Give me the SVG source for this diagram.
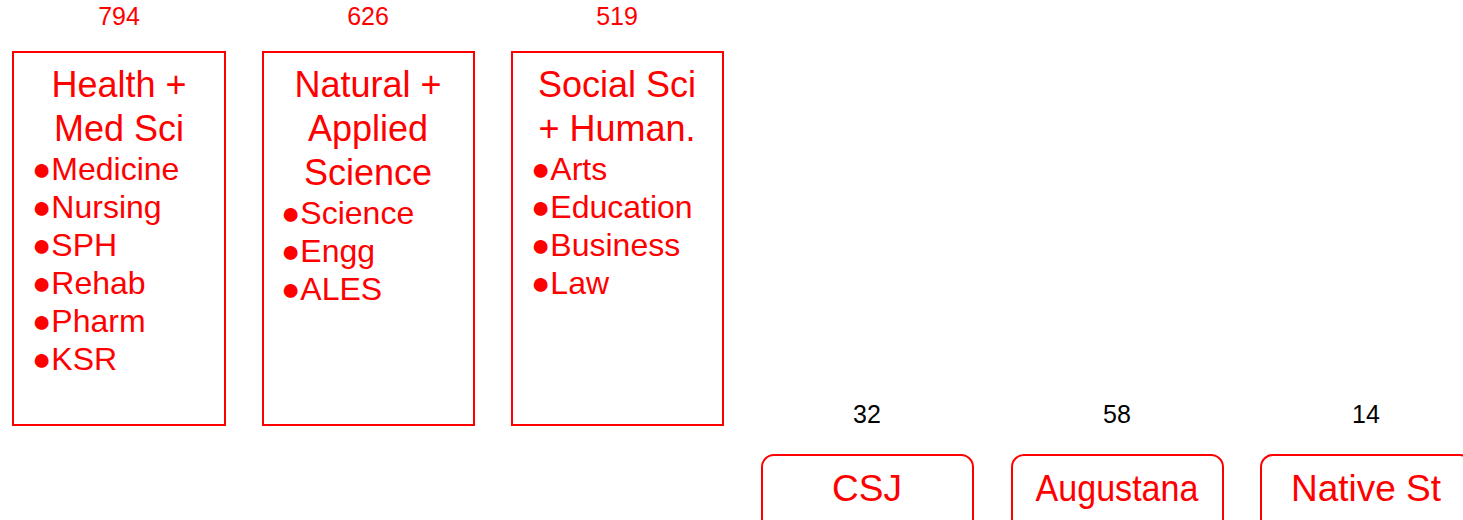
<svg xmlns="http://www.w3.org/2000/svg" width="1463" height="520" viewBox="0 0 1463 520">
<style>
text{font-family:"Liberation Sans",Arial,sans-serif}
.num{font-size:25px;text-anchor:middle}
.red{fill:#ff0000}
.blk{fill:#000000}
.box{fill:#ffffff;stroke:#ff0000;stroke-width:2}
.title{font-size:36px;fill:#ff0000;text-anchor:middle}
.item{font-size:32px;fill:#ff0000}
.lbl{font-size:37px;fill:#ff0000;text-anchor:middle}
</style>
<rect width="1463" height="520" fill="#ffffff"/>
<g id="node-health">
<text class="num red" x="119" y="25">794</text>
<rect class="box" x="13" y="52" width="212" height="373"/>
<text class="title" x="119" y="97">Health +</text>
<text class="title" x="119" y="141">Med Sci</text>
<text class="item" x="32" y="180">●Medicine</text>
<text class="item" x="32" y="218">●Nursing</text>
<text class="item" x="32" y="256">●SPH</text>
<text class="item" x="32" y="294">●Rehab</text>
<text class="item" x="32" y="332">●Pharm</text>
<text class="item" x="32" y="370">●KSR</text>
</g>
<g id="node-natural">
<text class="num red" x="368" y="25">626</text>
<rect class="box" x="263" y="52" width="211" height="373"/>
<text class="title" x="368" y="97">Natural +</text>
<text class="title" x="368" y="141">Applied</text>
<text class="title" x="368" y="185">Science</text>
<text class="item" x="281" y="224">●Science</text>
<text class="item" x="281" y="262">●Engg</text>
<text class="item" x="281" y="300">●ALES</text>
</g>
<g id="node-social">
<text class="num red" x="617" y="25">519</text>
<rect class="box" x="512" y="52" width="211" height="373"/>
<text class="title" x="617" y="97">Social Sci</text>
<text class="title" x="617" y="141">+ Human.</text>
<text class="item" x="531" y="180">●Arts</text>
<text class="item" x="531" y="218">●Education</text>
<text class="item" x="531" y="256">●Business</text>
<text class="item" x="531" y="294">●Law</text>
</g>
<g id="node-csj">
<text class="num blk" x="867" y="423">32</text>
<rect class="box" x="762" y="455" width="211" height="80" rx="12"/>
<text class="lbl" x="867" y="501">CSJ</text>
</g>
<g id="node-augustana">
<text class="num blk" x="1117" y="423">58</text>
<rect class="box" x="1012" y="455" width="211" height="80" rx="12"/>
<text class="lbl" x="1117" y="501" textLength="163" lengthAdjust="spacingAndGlyphs">Augustana</text>
</g>
<g id="node-native">
<text class="num blk" x="1366" y="423">14</text>
<rect class="box" x="1261" y="455" width="211" height="80" rx="12"/>
<text class="lbl" x="1366" y="501">Native St</text>
</g>
<g id="connectors"></g>
</svg>
